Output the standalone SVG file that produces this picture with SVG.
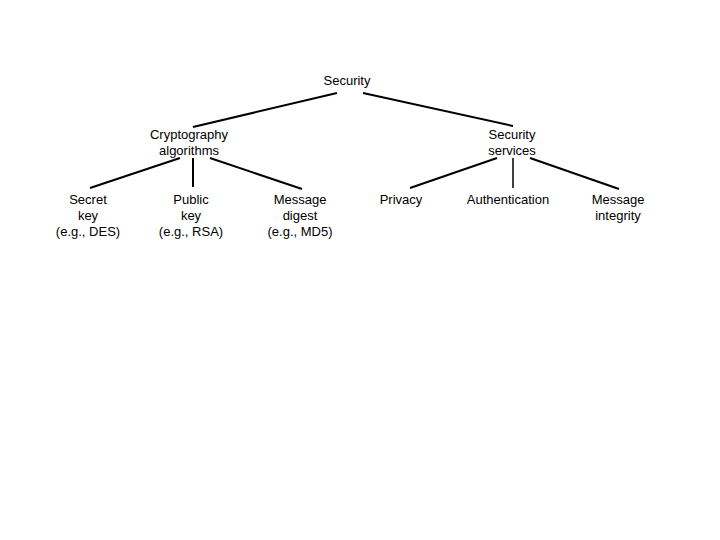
<svg xmlns="http://www.w3.org/2000/svg" width="720" height="540" viewBox="0 0 720 540">
<style>
text{font-family:"Liberation Sans",Arial,sans-serif;font-size:13px;fill:#000;text-anchor:middle}
line{stroke:#000;stroke-width:2}
</style>
<rect width="720" height="540" fill="#fff"/>
<g id="connectors">
<line x1="337" y1="93" x2="193" y2="127"/>
<line x1="363" y1="93" x2="513" y2="126"/>
<line x1="180" y1="158" x2="90" y2="188"/>
<line x1="193" y1="158" x2="193" y2="187"/>
<line x1="210" y1="158" x2="302" y2="189"/>
<line x1="497" y1="158" x2="410" y2="188"/>
<line x1="513" y1="158" x2="513" y2="188" style="stroke-width:1.5"/>
<line x1="530" y1="158" x2="619" y2="189"/>
</g>
<g id="security"><text x="347" y="85">Security</text></g>
<g id="crypto"><text x="189" y="139">Cryptography</text><text x="189" y="155">algorithms</text></g>
<g id="services"><text x="512" y="139">Security</text><text x="512" y="155">services</text></g>
<g id="secret"><text x="88" y="204">Secret</text><text x="88" y="220">key</text><text x="88" y="236">(e.g., DES)</text></g>
<g id="public"><text x="191" y="204">Public</text><text x="191" y="220">key</text><text x="191" y="236">(e.g., RSA)</text></g>
<g id="digest"><text x="300" y="204">Message</text><text x="300" y="220">digest</text><text x="300" y="236">(e.g., MD5)</text></g>
<g id="privacy"><text x="401" y="204">Privacy</text></g>
<g id="auth"><text x="508" y="204">Authentication</text></g>
<g id="integrity"><text x="618" y="204">Message</text><text x="618" y="220">integrity</text></g>
</svg>
